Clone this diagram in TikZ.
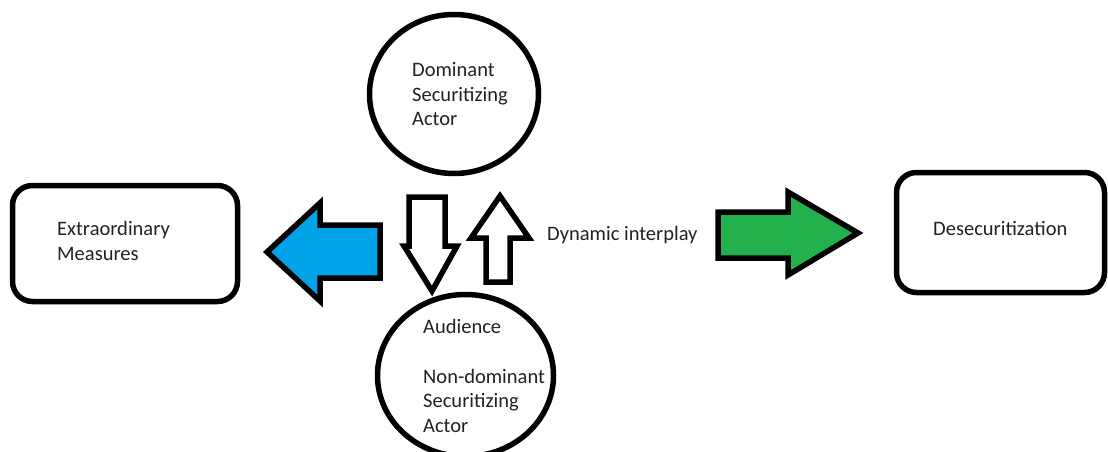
\documentclass[tikz,border=0pt]{standalone}
\usepackage{fontspec}
\setmainfont{Carlito}
\usetikzlibrary{shapes.geometric}
\definecolor{paintblue}{HTML}{00A2E8}
\definecolor{paintgreen}{HTML}{22B14C}
\definecolor{txt}{HTML}{222222}
\tikzset{
  outline/.style={draw=black, line width=5.5pt, line join=miter},
  roundbox/.style={outline, rounded corners=20pt, inner sep=0pt},
  circ/.style={outline, ellipse, inner sep=0pt},
  lbl/.style={anchor=base west, inner sep=0pt, text=txt,
              font=\fontsize{20.5}{25}\selectfont},
  blockarrow/.style={outline}
}
\begin{document}
\begin{tikzpicture}[x=1pt,y=-1pt]
\useasboundingbox[fill=white] (0,0) rectangle (1108,452);

% shapes
\node[circ, minimum width=169pt, minimum height=159pt] (dom) at (454,94) {};
\node[circ, minimum width=176pt, minimum height=162pt] (aud) at (465.5,375.5) {};
\node[roundbox, minimum width=225pt, minimum height=116pt] (extra) at (125,243.5) {};
\node[roundbox, minimum width=208pt, minimum height=120pt] (desec) at (1000.5,232.5) {};

% block arrows
\draw[blockarrow, fill=paintblue]
  (380,225) -- (320,225) -- (320,203) -- (267,252) -- (320,301) -- (320,278) -- (380,278) -- cycle;
\draw[blockarrow, fill=paintgreen]
  (718,212) -- (788,212) -- (788,192) -- (858,233) -- (788,275) -- (788,258) -- (718,258) -- cycle;
\draw[blockarrow, fill=white]
  (409,197) -- (445,197) -- (445,246) -- (457,246) -- (432,291) -- (404,246) -- (409,246) -- cycle;
\draw[blockarrow, fill=white]
  (486,282) -- (510,282) -- (510,238) -- (529,238) -- (500,196) -- (471,238) -- (486,238) -- cycle;

% texts
\node[lbl] (dom1) at (412,77) {Dominant};
\node[lbl] (dom2) at (412,101) {Securitizing};
\node[lbl] (dom3) at (412,125) {Actor};
\node[lbl] (aud1) at (423,333) {Audience};
\node[lbl] (aud2) at (423,383) {Non-dominant};
\node[lbl] (aud3) at (423,407) {Securitizing};
\node[lbl] (aud4) at (423,432) {Actor};
\node[lbl] (ex1) at (57,235) {Extraordinary};
\node[lbl] (ex2) at (57,260) {Measures};
\node[lbl] (dy) at (547,240) {Dynamic interplay};
\node[lbl] (de) at (933,235) {Desecuritization};
\end{tikzpicture}
\end{document}
